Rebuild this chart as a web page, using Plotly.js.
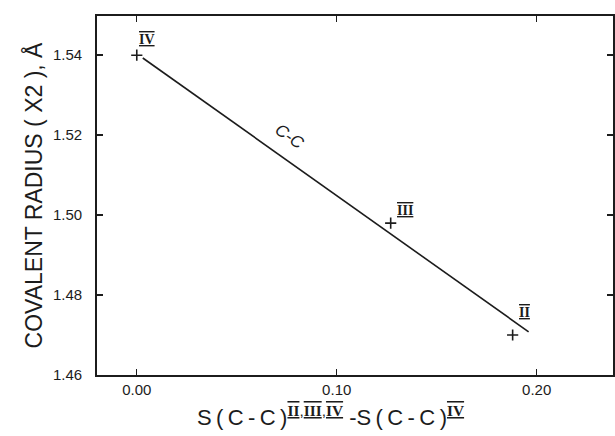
<!DOCTYPE html>
<html>
<head>
<meta charset="utf-8">
<script src="https://cdn.plot.ly/plotly-3.0.1.min.js"></script>
<style>html,body{margin:0;padding:0;background:#fff;}#chart{width:615px;height:436px;}</style>
</head>
<body>
<div id="chart"></div>
<script>
// Data
const ptName = ["IV", "III", "II"];
const ptX = [0.000, 0.127, 0.188];
const ptY = [1.540, 1.498, 1.470];
const fitX = [0.003, 0.196];
const fitY = [1.5393, 1.4708];
const fitLabel = "C-C";
const xTicks = [0.00, 0.10, 0.20];
const yTicks = [1.46, 1.48, 1.50, 1.52, 1.54];

const ink = "#1c1c1c";
const sans = "Liberation Sans, Arial, sans-serif";
const serif = "Liberation Serif, DejaVu Serif, serif";
const barred = s => "<b><span style=\"text-decoration:overline underline;font-family:Liberation Serif\">" + s + "</span></b>";

const traces = [
  {x: fitX, y: fitY, mode: "lines", line: {color: ink, width: 1.6}, hoverinfo: "skip", showlegend: false},
  {x: ptX, y: ptY, mode: "markers", marker: {symbol: "cross-thin", size: 8, line: {color: ink, width: 1.6}}, showlegend: false}
];

const labelShift = [[10, 16], [14, 13], [12, 23]];
const annotations = ptName.map((n, i) => ({
  x: ptX[i], y: ptY[i], xref: "x", yref: "y", text: barred(n), showarrow: false,
  xshift: labelShift[i][0], yshift: labelShift[i][1],
  font: {family: serif, size: 14, color: ink}
}));
annotations.push({
  x: fitX[0] + (fitX[1] - fitX[0]) * 0.364, y: fitY[0] + (fitY[1] - fitY[0]) * 0.364,
  xref: "x", yref: "y", text: "<i>" + fitLabel + "</i>", showarrow: false, textangle: 35,
  xshift: 6, yshift: 21, font: {family: sans, size: 17, color: ink}
});
// x axis title, placed as in the reference (left of plot centre)
const sp = "\u2009";
annotations.push({
  x: (330 - 97) / 516, y: -0.158, xref: "paper", yref: "paper", xanchor: "center", yanchor: "bottom",
  text: ["S", "(", "C", "-", "C", ")"].join(sp) + "<sup>" + barred("II") + "," + barred("III") + "," + barred("IV") + "</sup>" +
        " " + ["-S", "(", "C", "-", "C", ")"].join(sp) + "<sup>" + barred("IV") + "</sup>",
  showarrow: false, font: {size: 22, family: sans, color: ink}
});

const layout = {
  width: 615, height: 436,
  margin: {l: 97, r: 2, t: 16, b: 61},
  paper_bgcolor: "#fff", plot_bgcolor: "#fff",
  font: {family: sans, color: ink},
  xaxis: {
    range: [-0.0199, 0.2382], tickvals: xTicks, tickformat: ".2f",
    ticks: "inside", ticklen: 6, tickwidth: 1.4, tickcolor: ink,
    showline: true, linecolor: ink, linewidth: 1.8, mirror: "ticks",
    showgrid: false, zeroline: false,
    tickfont: {size: 15, family: sans, color: ink}
  },
  yaxis: {
    range: [1.46, 1.5498], tickvals: yTicks, tickformat: ".2f",
    ticks: "inside", ticklen: 6, tickwidth: 1.4, tickcolor: ink,
    showline: true, linecolor: ink, linewidth: 1.8, mirror: "ticks",
    showgrid: false, zeroline: false, ticklabelstandoff: 10,
    tickfont: {size: 15, family: sans, color: ink},
    title: {text: "COVALENT RADIUS ( X2 ), Å", font: {size: 23, family: sans, color: ink}, standoff: 4}
  },
  annotations: annotations
};

Plotly.newPlot("chart", traces, layout, {staticPlot: true, displayModeBar: false});
</script>
</body>
</html>
